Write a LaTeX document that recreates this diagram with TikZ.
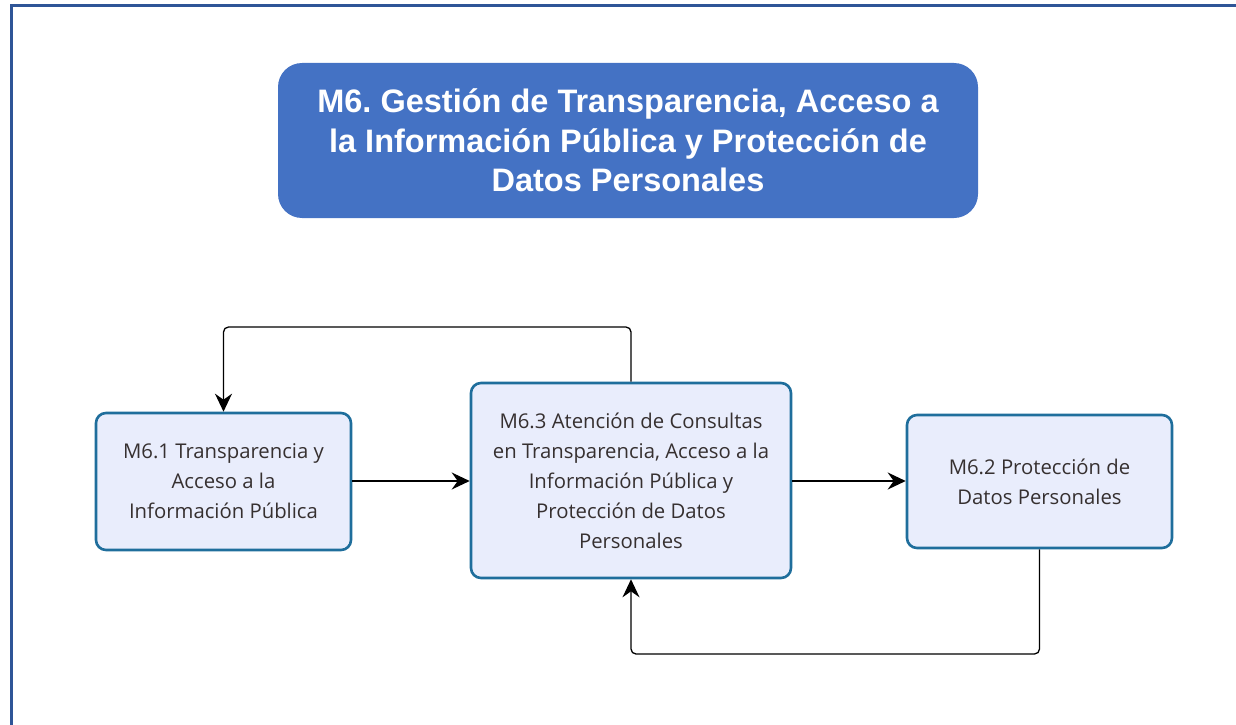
\documentclass[tikz,border=0pt]{standalone}
\usepackage{fontspec}
\setmainfont{Open Sans}
\newfontfamily\titlefont{Liberation Sans}
\usetikzlibrary{arrows.meta}
\frenchspacing

\definecolor{framecol}{HTML}{2F5597}
\definecolor{titlecol}{HTML}{4472C4}
\definecolor{boxfill}{HTML}{E9EDFC}
\definecolor{boxline}{HTML}{1F6E9C}
\definecolor{txtcol}{HTML}{363030}

\begin{document}
\begin{tikzpicture}[x=1pt,y=-1pt,
    titlebox/.style={fill=titlecol, rounded corners=24pt, minimum width=700pt, minimum height=155pt,
        align=center, text=white, font=\titlefont\bfseries\fontsize{32.5}{39.5}\selectfont},
    procbox/.style={draw=boxline, line width=2.6pt, fill=boxfill, rounded corners=10pt,
        align=center, text=txtcol, font=\fontsize{20.3}{30}\selectfont},
    link/.style={line width=1.3pt, -{Stealth[length=18pt,width=17pt,inset=6pt]}, rounded corners=5pt}]

    \useasboundingbox (0,0) rectangle (1236,725);
    % frame
    \draw[framecol, line width=3pt] (11,725) -- (11,6) -- (1236,6);

    % title
    \node[titlebox] (m6) at (628,140.5) {M6. Gestión de Transparencia, Acceso a\\la Información Pública y Protección de\\Datos Personales};

    % processes
    \node[procbox, minimum width=255pt, minimum height=137pt] (m61) at (223.5,481.5) {M6.1 Transparencia y\\Acceso a la\\Información Pública};
    \node[procbox, minimum width=320pt, minimum height=195pt] (m63) at (631,480.5) {M6.3 Atención de Consultas\\en Transparencia, Acceso a la\\Información Pública y\\Protección de Datos\\Personales};
    \node[procbox, minimum width=265pt, minimum height=133pt] (m62) at (1039.5,481.5) {M6.2 Protección de\\Datos Personales};

    % arrows
    \draw[link] (m61.east |- 0,481) -- (m63.west |- 0,481);
    \draw[link] (m63.east |- 0,481) -- (m62.west |- 0,481);
    \draw[link] (m63.north) -- (631,327) -- (223.5,327) -- (m61.north);
    \draw[link] (m62.south) -- (1039.5,654) -- (631,654) -- (m63.south);

\end{tikzpicture}
\end{document}
